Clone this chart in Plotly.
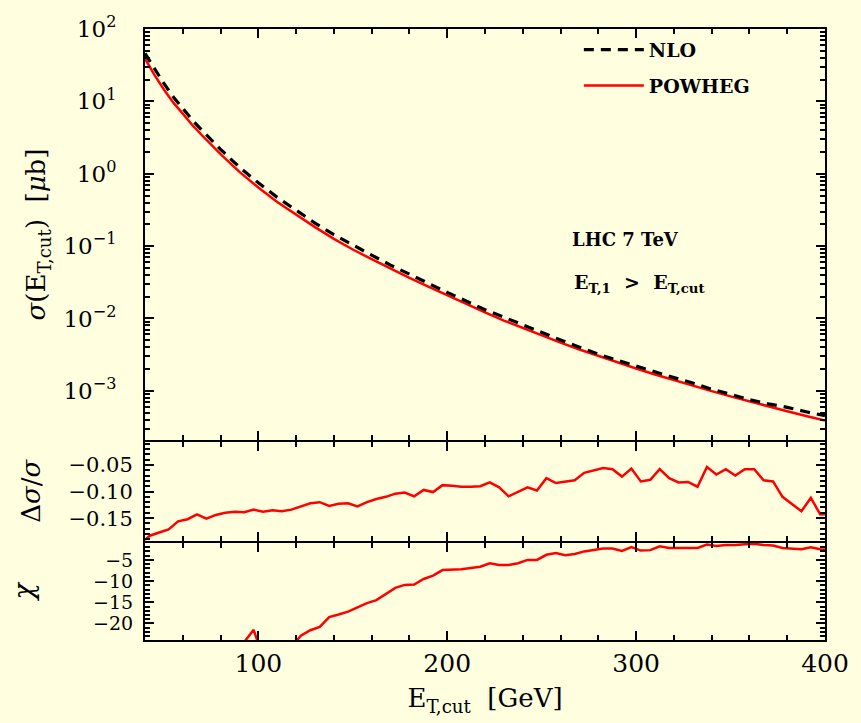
import plotly.graph_objects as go

# ---------------- data ----------------
# cross-section panel (GeV, micro-barn)
x_sig = [40, 45, 50, 55, 60, 65, 70, 80, 90, 100, 110, 120, 130, 140, 150, 160, 170, 180, 190,
         200, 210, 220, 230, 240, 250, 260, 270, 280, 290, 300, 310, 320, 330, 340, 350, 360,
         370, 380, 390, 400]
sig_nlo = [46.0, 28.3, 17.7, 11.5, 8.0, 5.55, 4.02, 2.17, 1.23, 0.748, 0.471, 0.310, 0.208,
           0.144, 0.1025, 0.0749, 0.0546, 0.0407, 0.0306, 0.0229, 0.0174, 0.0132, 0.0104,
           0.00811, 0.00634, 0.00504, 0.00401, 0.00321, 0.00264, 0.00218, 0.00180, 0.00152,
           0.00128, 0.00105, 0.000895, 0.000755, 0.000661, 0.000590, 0.000513, 0.000452]
sig_powheg = [38.9, 23.2, 14.6, 9.6, 6.76, 4.72, 3.43, 1.86, 1.06, 0.646, 0.407, 0.269, 0.183,
              0.126, 0.0897, 0.0661, 0.0488, 0.0364, 0.0276, 0.0209, 0.0158, 0.0121, 0.00935,
              0.00733, 0.00579, 0.00462, 0.00372, 0.00302, 0.00247, 0.00203, 0.00168, 0.00140,
              0.00117, 0.000989, 0.000838, 0.000711, 0.000608, 0.000521, 0.000449, 0.000388]

# ratio and chi panels (bin centres, GeV)
x_bins = [37.5, 42.5, 47.5, 52.5, 57.5, 62.5, 67.5, 72.5, 77.5, 82.5, 87.5, 92.5, 97.5, 102.5,
          107.5, 112.5, 117.5, 122.5, 127.5, 132.5, 137.5, 142.5, 147.5, 152.5, 157.5, 162.5,
          167.5, 172.5, 177.5, 182.5, 187.5, 192.5, 197.5, 202.5, 207.5, 212.5, 217.5, 222.5,
          227.5, 232.5, 237.5, 242.5, 247.5, 252.5, 257.5, 262.5, 267.5, 272.5, 277.5, 282.5,
          287.5, 292.5, 297.5, 302.5, 307.5, 312.5, 317.5, 322.5, 327.5, 332.5, 337.5, 342.5,
          347.5, 352.5, 357.5, 362.5, 367.5, 372.5, 377.5, 382.5, 387.5, 392.5, 397.5, 402.5]
delta = [-0.199, -0.183, -0.177, -0.171, -0.156, -0.152, -0.143, -0.151, -0.144, -0.140, -0.138,
         -0.139, -0.134, -0.138, -0.135, -0.137, -0.134, -0.128, -0.122, -0.120, -0.127, -0.123,
         -0.122, -0.128, -0.120, -0.114, -0.110, -0.104, -0.102, -0.109, -0.097, -0.101, -0.088,
         -0.089, -0.091, -0.091, -0.090, -0.083, -0.092, -0.109, -0.100, -0.092, -0.098, -0.075,
         -0.084, -0.082, -0.079, -0.065, -0.061, -0.056, -0.058, -0.072, -0.057, -0.081, -0.078,
         -0.058, -0.075, -0.083, -0.082, -0.091, -0.054, -0.068, -0.058, -0.070, -0.058, -0.058,
         -0.079, -0.081, -0.110, -0.124, -0.137, -0.112, -0.143, -0.142]
chi = [-48, -46, -44, -42, -40, -38, -36, -34, -32, -30, -28, -24.4, -21.5, -28, -27, -26.5,
       -25.5, -22.9, -21.6, -20.8, -18.5, -17.9, -17.2, -16.2, -15.2, -14.5, -13.1, -11.6, -10.9,
       -10.8, -9.5, -8.7, -7.4, -7.3, -7.2, -6.9, -6.6, -5.8, -6.2, -6.2, -5.8, -5.0, -5.0, -3.8,
       -3.4, -3.9, -3.6, -3.0, -2.7, -2.3, -2.3, -2.9, -2.0, -2.8, -2.7, -1.8, -2.2, -2.2, -2.2,
       -2.2, -1.4, -1.7, -1.5, -1.5, -1.3, -1.2, -1.5, -1.6, -2.2, -2.4, -2.5, -2.0, -2.5, -2.6]

log_tickvals = [1e-3, 1e-2, 1e-1, 1e0, 1e1, 1e2]
log_exponents = ["\u22123", "\u22122", "\u22121", "0", "1", "2"]

# ---------------- style ----------------
FONT = "DejaVu Serif"
BG = "#FFFFE0"
RED = "#FF0000"

log_ticktext = ["10<sup>%s</sup>" % e for e in log_exponents]

fig = go.Figure()
fig.add_trace(go.Scatter(x=x_sig, y=sig_powheg, mode="lines", name="POWHEG", legendrank=2,
                         line=dict(color=RED, width=2.5), xaxis="x", yaxis="y",
                         legendgroup="p"))
fig.add_trace(go.Scatter(x=x_sig, y=sig_nlo, mode="lines", name="NLO", legendrank=1,
                         line=dict(color="black", width=3.2, dash="10px,7px"),
                         xaxis="x", yaxis="y", legendgroup="n"))
fig.add_trace(go.Scatter(x=x_bins, y=delta, mode="lines", showlegend=False,
                         line=dict(color=RED, width=2.5), xaxis="x2", yaxis="y2"))
fig.add_trace(go.Scatter(x=x_bins, y=chi, mode="lines", showlegend=False,
                         line=dict(color=RED, width=2.5), xaxis="x3", yaxis="y3"))

common = dict(showline=True, linecolor="black", linewidth=2, mirror="allticks",
              ticks="inside", ticklen=9, tickwidth=2, tickcolor="black",
              showgrid=False, zeroline=False,
              tickfont=dict(family=FONT, size=23, color="black"))
xminor = dict(ticks="inside", ticklen=5, tickwidth=1.5, tickcolor="black", dtick=20,
              showgrid=False)

PLOT_H = 723 - 26 - 83
g = 2.0 / PLOT_H  # gap so that adjacent panel borders coincide
d1, d2 = 0.1612, 0.3257

fig.update_layout(
    width=861, height=723,
    margin=dict(l=145, r=28, t=26, b=83),
    paper_bgcolor=BG, plot_bgcolor=BG,
    font=dict(family=FONT, size=22, color="black"),
    xaxis=dict(common, anchor="y", domain=[0, 1], range=[40, 400], tick0=0, dtick=100,
               minor=xminor, showticklabels=False),
    xaxis2=dict(common, anchor="y2", domain=[0, 1], matches="x", range=[40, 400], tick0=0,
                dtick=100, minor=xminor, showticklabels=False),
    xaxis3=dict(common, anchor="y3", domain=[0, 1], matches="x", range=[40, 400], tick0=0,
                dtick=100, minor=xminor, showticklabels=True,
                tickfont=dict(family=FONT, size=25, color="black"),
                title=dict(text="E<sub>T,cut</sub>  [GeV]", standoff=12,
                           font=dict(family=FONT, size=26))),
    yaxis=dict(common, anchor="x", domain=[d2 + g / 2, 1], type="log", range=[-3.68, 2],
               tickmode="array", tickvals=log_tickvals, ticktext=log_ticktext,
               ticklabelstandoff=22,
               minor=dict(ticks="inside", ticklen=5, tickwidth=1.5, tickcolor="black",
                          dtick="D1", showgrid=False),
               title=dict(text="<i>\u03c3</i>(E<sub>T,cut</sub>)  [<i>\u03bc</i>b]",
                          standoff=10, font=dict(family=FONT, size=26))),
    yaxis2=dict(common, anchor="x2", domain=[d1 + g / 2, d2 - g / 2], range=[-0.192, -0.007],
                tick0=0, dtick=0.05, tickformat=".2f", ticklabelstandoff=6,
                tickfont=dict(family=FONT, size=21, color="black"),
                minor=dict(ticks="inside", ticklen=5, tickwidth=1.5, tickcolor="black",
                           dtick=0.01, showgrid=False),
                title=dict(text="\u0394<i>\u03c3</i>/<i>\u03c3</i>", standoff=20,
                           font=dict(family=FONT, size=26))),
    yaxis3=dict(common, anchor="x3", domain=[0, d1 - g / 2], range=[-23.9, -0.9],
                tick0=0, dtick=5, ticklabelstandoff=6,
                tickfont=dict(family=FONT, size=19, color="black"),
                minor=dict(ticks="inside", ticklen=5, tickwidth=1.5, tickcolor="black",
                           dtick=1, showgrid=False),
                title=dict(text="<i>\u03c7</i>", standoff=52,
                           font=dict(family=FONT, size=27))),
    legend=dict(x=0.638, y=0.997, xanchor="left", yanchor="top", bgcolor="rgba(0,0,0,0)",
                font=dict(family=FONT, size=19, color="black", weight="bold"),
                traceorder="grouped", tracegroupgap=8, itemwidth=60),
    annotations=[
        dict(text="LHC 7 TeV", xref="paper", yref="paper", x=0.625, y=0.655,
             xanchor="left", yanchor="middle", showarrow=False,
             font=dict(family=FONT, size=18, color="black", weight="bold")),
        dict(text="E<sub>T,1</sub>  >  E<sub>T,cut</sub>", xref="paper", yref="paper",
             x=0.628, y=0.584, xanchor="left", yanchor="middle", showarrow=False,
             font=dict(family=FONT, size=19, color="black", weight="bold")),
    ],
)

fig.write_html("out.html")
